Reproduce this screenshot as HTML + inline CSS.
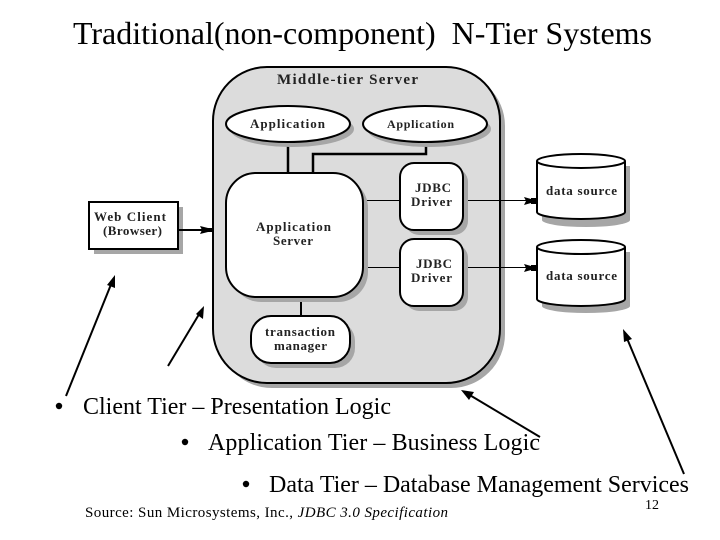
<!DOCTYPE html>
<html><head><meta charset="utf-8"><style>
html,body{margin:0;padding:0;background:#fff}
svg{display:block}
text{font-family:"Liberation Serif",serif;fill:#000}
.d{font-weight:bold;fill:#222;font-size:13px}
.s{fill:#a6a6a6}
.w{fill:#fff;stroke:#000;stroke-width:2}
</style></head><body>
<svg width="720" height="540" viewBox="0 0 720 540" xmlns="http://www.w3.org/2000/svg">
<rect width="720" height="540" fill="#fff"/>
<text x="73" y="44" font-size="32" textLength="579" lengthAdjust="spacing" xml:space="preserve">Traditional(non-component)  N-Tier Systems</text>

<!-- outer -->
<rect class="s" x="218" y="72" width="287" height="316" rx="54"/>
<rect x="213" y="67" width="287" height="316" rx="54" fill="#dcdcdc" stroke="#000" stroke-width="2"/>
<text class="d" x="277" y="84" style="font-size:15px" textLength="141" lengthAdjust="spacing">Middle-tier Server</text>

<!-- connectors -->
<g fill="none" stroke="#000" stroke-width="2.5">
<path d="M288 142V173"/>
<path d="M426 142V154H313V173"/>
<path d="M301 297V316" stroke-width="2"/>
</g>
<g fill="none" stroke="#000" stroke-width="1">
<path d="M363 200.5H400M463 200.5H530"/>
<path d="M363 267.5H400M463 267.5H530"/>
</g>
<path d="M524 197L531 199V203L524 205L526 201ZM531 198H537V204H531Z"/>
<path d="M524 264L531 266V270L524 272L526 268ZM531 265H537V271H531Z"/>

<!-- ellipses -->
<ellipse class="s" cx="292" cy="129" rx="62" ry="18"/>
<ellipse class="w" cx="288" cy="124" rx="62" ry="18"/>
<text class="d" x="250" y="128" textLength="75" lengthAdjust="spacing">Application</text>
<ellipse class="s" cx="429" cy="129" rx="62" ry="18"/>
<ellipse class="w" cx="425" cy="124" rx="62" ry="18"/>
<text class="d" x="387" y="128" style="font-size:12px" textLength="67" lengthAdjust="spacing">Application</text>

<!-- app server -->
<rect class="s" x="231" y="178" width="137" height="124" rx="30"/>
<rect class="w" x="226" y="173" width="137" height="124" rx="30"/>
<text class="d" x="256" y="231" textLength="75" lengthAdjust="spacing">Application</text>
<text class="d" x="273" y="245" textLength="40" lengthAdjust="spacing">Server</text>

<!-- JDBC -->
<rect class="s" x="405" y="168" width="63" height="67" rx="14"/>
<rect class="w" x="400" y="163" width="63" height="67" rx="14"/>
<text class="d" x="415" y="192" textLength="36" lengthAdjust="spacing">JDBC</text>
<text class="d" x="411" y="206" textLength="41" lengthAdjust="spacing">Driver</text>
<rect class="s" x="405" y="244" width="63" height="67" rx="14"/>
<rect class="w" x="400" y="239" width="63" height="67" rx="14"/>
<text class="d" x="416" y="268" textLength="36" lengthAdjust="spacing">JDBC</text>
<text class="d" x="411" y="282" textLength="41" lengthAdjust="spacing">Driver</text>

<!-- transaction -->
<rect class="s" x="256" y="321" width="99" height="47" rx="20"/>
<rect class="w" x="251" y="316" width="99" height="47" rx="20"/>
<text class="d" x="265" y="336" textLength="70" lengthAdjust="spacing">transaction</text>
<text class="d" x="274" y="350" textLength="53" lengthAdjust="spacing">manager</text>

<!-- web client -->
<rect class="s" x="94" y="207" width="89" height="47"/>
<rect class="w" x="89" y="202" width="89" height="47"/>
<text class="d" x="94" y="221" textLength="72" lengthAdjust="spacing">Web Client</text>
<text class="d" x="103" y="235" textLength="59" lengthAdjust="spacing">(Browser)</text>
<path d="M178 230H213" stroke="#000" stroke-width="2"/>
<path d="M200 226L208 228H213V232H208L200 234L202 230Z"/>

<!-- cylinders -->
<path class="s" d="M542 166V220A44 7 0 0 0 630 220V166Z"/>
<path class="s" d="M542 252V306A44 7 0 0 0 630 306V252Z"/>
<path class="w" d="M537 161V212A44 7 0 0 0 625 212V161"/>
<ellipse class="w" cx="581" cy="161" rx="44" ry="7"/>
<text class="d" x="546" y="195" textLength="71" lengthAdjust="spacing">data source</text>
<path class="w" d="M537 247V299A44 7 0 0 0 625 299V247"/>
<ellipse class="w" cx="581" cy="247" rx="44" ry="7"/>
<text class="d" x="546" y="280" textLength="71" lengthAdjust="spacing">data source</text>

<!-- callout arrows -->
<g stroke="#000" stroke-width="2" fill="none">
<path d="M66 396L112 282"/>
<path d="M168 366L201 311"/>
<path d="M540 437L468 394"/>
<path d="M684 474L626 336"/>
</g>
<path d="M115 275L115 288L107 285Z"/>
<path d="M204 306L203 319L196 314Z"/>
<path d="M461 390L474 392L469 400Z"/>
<path d="M623 329L632 339L624 342Z"/>

<!-- text -->
<circle cx="59" cy="406" r="3.2"/>
<text x="83" y="414" font-size="24" textLength="308" lengthAdjust="spacing">Client Tier – Presentation Logic</text>
<circle cx="185" cy="442" r="3.2"/>
<text x="208" y="450" font-size="24" textLength="332" lengthAdjust="spacing">Application Tier – Business Logic</text>
<circle cx="246" cy="484" r="3.2"/>
<text x="269" y="492" font-size="24" textLength="420" lengthAdjust="spacing">Data Tier – Database Management Services</text>
<text x="85" y="517" font-size="15" textLength="363" lengthAdjust="spacing">Source: Sun Microsystems, Inc., <tspan font-style="italic">JDBC 3.0 Specification</tspan></text>
<text x="645" y="509" font-size="14">12</text>
</svg>
</body></html>
